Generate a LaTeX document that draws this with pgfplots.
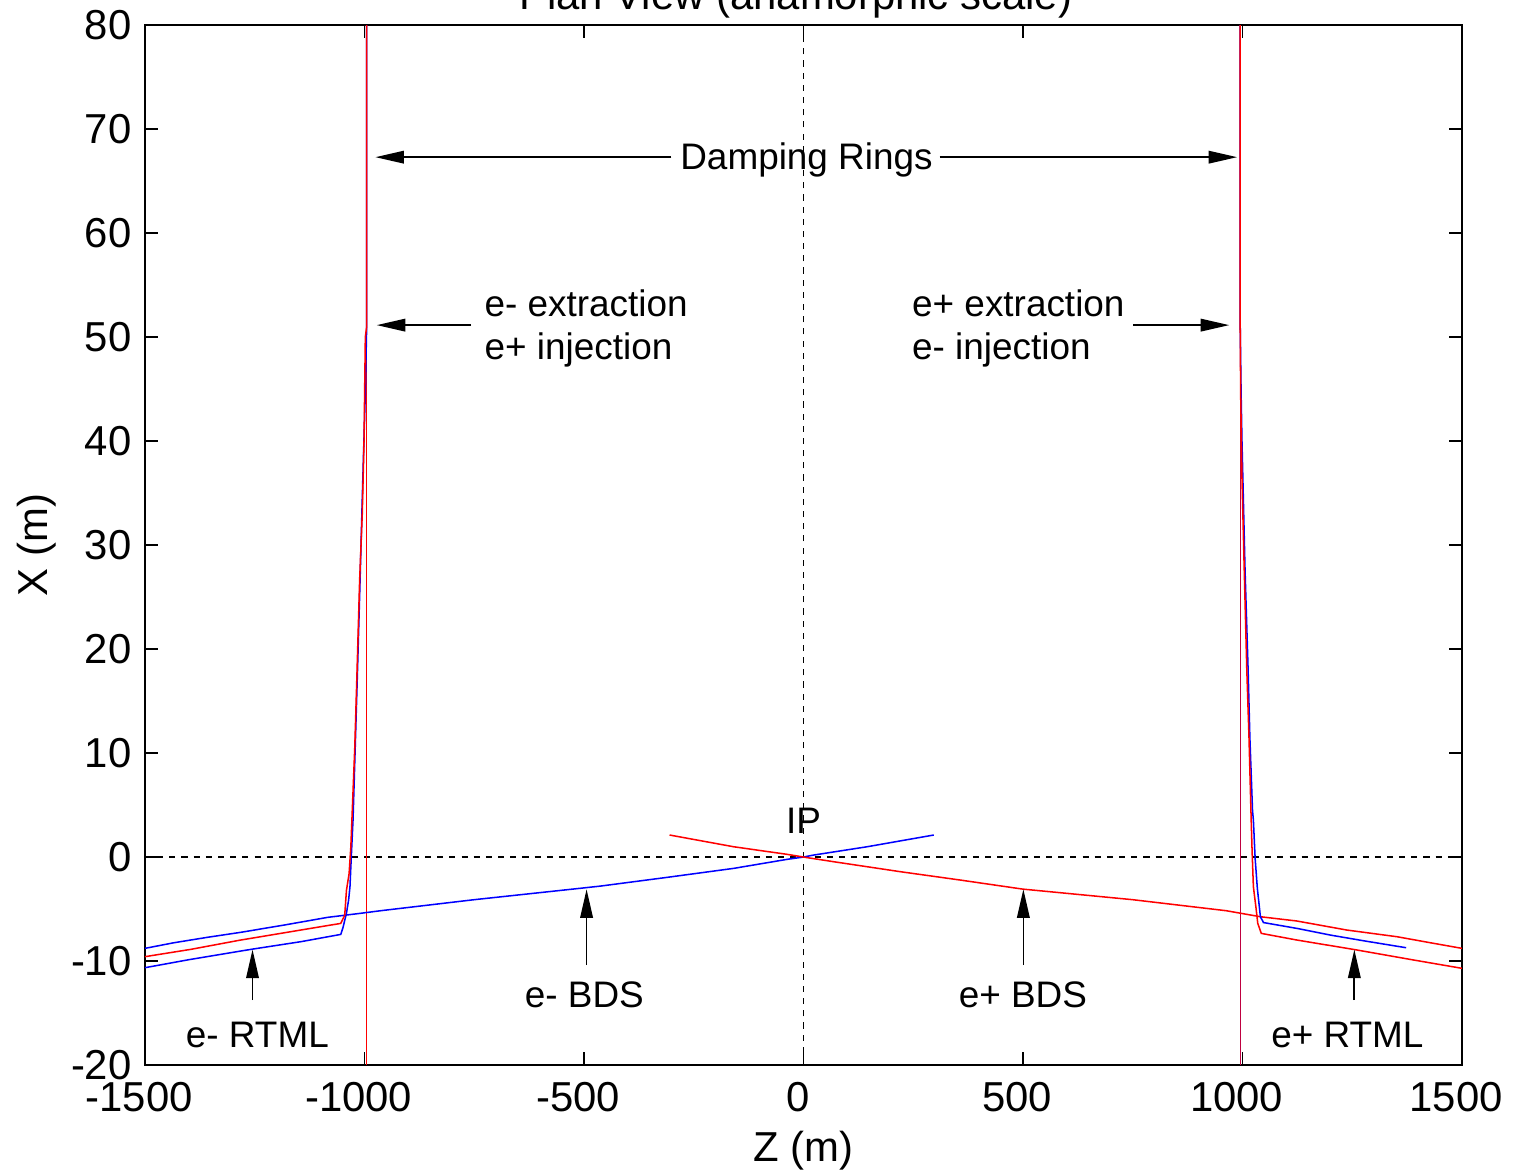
\documentclass[border=0pt]{standalone}
\usepackage{fontspec}
\setmainfont{Liberation Sans}
\usepackage{pgfplots}
\pgfplotsset{compat=1.18}
\usetikzlibrary{arrows.meta}

\definecolor{mblue}{rgb}{0,0,1}
\definecolor{mred}{rgb}{1,0,0}

\begin{document}
\begin{tikzpicture}[
  annot/.style={font=\fontsize{9.7}{11.6}\selectfont},
  arr/.style={line width=0.45pt, -{Triangle[length=7.5pt,width=3.3pt]}},
]
\begin{axis}[
  scale only axis, width=346.1pt, height=273.3pt,
  xmin=-1500, xmax=1500, ymin=-20, ymax=80,
  xtick={-1500,-1000,...,1500}, ytick={-20,-10,...,80},
  tick align=inside, major tick length=3.5pt,
  tick style={black, line width=0.4pt},
  axis line style={line width=0.5pt},
  ticklabel style={font=\fontsize{11}{13}\selectfont},
  xticklabel style={yshift=-1pt, xshift=-1.5pt},
  /pgf/number format/assume math mode=true,
  /pgf/number format/1000 sep={},
  xlabel={Z (m)}, ylabel={X (m)},
  label style={font=\fontsize{11}{13}\selectfont},
  x label style={at={(axis description cs:0.5,-0.082)}, anchor=center},
  y label style={at={(axis description cs:-0.082,0.5)}, anchor=center},
  every axis plot/.append style={line width=0.4pt},
]
% reference lines through the IP
\addplot[black, line width=0.3pt, dash pattern=on 1.6pt off 1.6pt] coordinates {(-1500,0) (1500,0)};
\addplot[black, line width=0.3pt, dash pattern=on 1.6pt off 1.6pt] coordinates {(0,-20) (0,80)};

% damping ring straight sections
\addplot[mblue, line width=0.3pt] coordinates {(-995,-20) (-995,80)};
\addplot[mred, line width=0.3pt] coordinates {(-995,-20) (-995,80)};
\addplot[mblue, line width=0.3pt] coordinates {(995,-20) (995,80)};
\addplot[mred!75!mblue, line width=0.3pt] coordinates {(995,-20) (995,80)};

% e- BDS (blue)
\addplot[mblue] coordinates {
  (-1500,-8.78) (-1434,-8.24) (-1358,-7.72) (-1282,-7.24) (-1183,-6.54)
  (-1084,-5.80) (-1009,-5.41) (-963,-5.16) (-750,-4.10) (-503,-2.98)
  (-462,-2.79) (-310,-1.95) (-159,-1.09) (-37,-0.22) (0,0)
  (23,0.19) (145,0.99) (297,2.12)
};
% e+ BDS (red)
\addplot[mred] coordinates {
  (-305,2.12) (-159,0.99) (-37,0.26) (0,0) (69,-0.45) (221,-1.41)
  (357,-2.21) (499,-3.08) (750,-4.10) (963,-5.16) (1041,-5.74)
  (1124,-6.15) (1238,-7.02) (1352,-7.66) (1428,-8.24) (1500,-8.78)
};

% left side: RTML and ring transfer lines
\addplot[mblue] coordinates {
  (-1500,-10.64) (-1396,-9.84) (-1259,-8.88) (-1145,-8.14) (-1054,-7.44)
  (-1049,-6.80) (-1041,-5.40) (-1036,-4.10) (-1033,-2.85) (-1030,0)
  (-1026,3.6) (-1021,10.6) (-1016,17.7) (-1010,26.6) (-1004,36)
  (-998,44.7) (-995,51) (-995,80)
};
\addplot[mred] coordinates {
  (-1500,-9.58) (-1396,-8.88) (-1282,-7.98) (-1168,-7.18) (-1054,-6.38)
  (-1045,-5.60) (-1041,-3.20) (-1035,-1.60) (-1031,1.00) (-1028,4.20)
  (-1022,10.6) (-1017,17.7) (-1011,26.6) (-1005,33) (-1001,40)
  (-998,50) (-995,51) (-995,80)
};

% right side
\addplot[mblue] coordinates {
  (995,80) (995,51) (997,44.7) (999,40) (1001,36.5) (1006,27.6)
  (1013,18) (1017,11.5) (1023,4.5) (1025,3.56) (1029,-0.13) (1034,-3.0)
  (1041,-5.74) (1048,-6.3) (1124,-6.86) (1200,-7.5) (1276,-8.05) (1373,-8.72)
};
\addplot[mred] coordinates {
  (995,80) (995,51) (996,44.6) (999,36.5) (1004,27.9) (1010,18)
  (1015,11.5) (1020,3.56) (1022,0.67) (1025,-2.85) (1031,-4.9) (1035,-6.38)
  (1043,-7.34) (1124,-7.98) (1253,-8.88) (1390,-9.9) (1500,-10.7)
};

% annotations
\node[annot, anchor=base] at (axis cs:7,66.1) {Damping Rings};
\draw[arr] (axis cs:-301,67.3) -- (axis cs:-975,67.3);
\draw[arr] (axis cs:310,67.3) -- (axis cs:988,67.3);

\node[annot, anchor=base west, inner sep=0pt] at (axis cs:-728,51.95) {e- extraction};
\node[annot, anchor=base west, inner sep=0pt] at (axis cs:-728,47.8) {e+ injection};
\draw[arr] (axis cs:-757,51.15) -- (axis cs:-972,51.15);

\node[annot, anchor=base west, inner sep=0pt] at (axis cs:246,51.95) {e+ extraction};
\node[annot, anchor=base west, inner sep=0pt] at (axis cs:246,47.8) {e- injection};
\draw[arr] (axis cs:751,51.15) -- (axis cs:970,51.15);

\node[annot, anchor=base] at (axis cs:0,2.3) {IP};

\draw[arr] (axis cs:-494,-10.4) -- (axis cs:-494,-3.1);
\node[annot, anchor=base] at (axis cs:-499,-14.5) {e- BDS};
\draw[arr] (axis cs:501,-10.4) -- (axis cs:501,-3.1);
\node[annot, anchor=base] at (axis cs:500,-14.5) {e+ BDS};

\draw[arr] (axis cs:-1255,-13.75) -- (axis cs:-1255,-8.9);
\node[annot, anchor=base] at (axis cs:-1244,-18.3) {e- RTML};
\draw[arr] (axis cs:1255,-13.75) -- (axis cs:1255,-8.9);
\node[annot, anchor=base] at (axis cs:1239,-18.3) {e+ RTML};

\coordinate (ll) at (rel axis cs:0,0);
\coordinate (ur) at (rel axis cs:1,1);
\coordinate (tc) at (rel axis cs:0.5,1);
\end{axis}
% title, mostly cut off by the page edge as in the original
\node[anchor=base, font=\fontsize{11}{13}\selectfont] at ([xshift=-2pt, yshift=4.2pt]tc) {Plan View (anamorphic scale)};
\pgfresetboundingbox
\path[use as bounding box] ([xshift=-38.1pt,yshift=-27.9pt]ll) rectangle ([xshift=15.8pt,yshift=6.6pt]ur);
\end{tikzpicture}
\end{document}
